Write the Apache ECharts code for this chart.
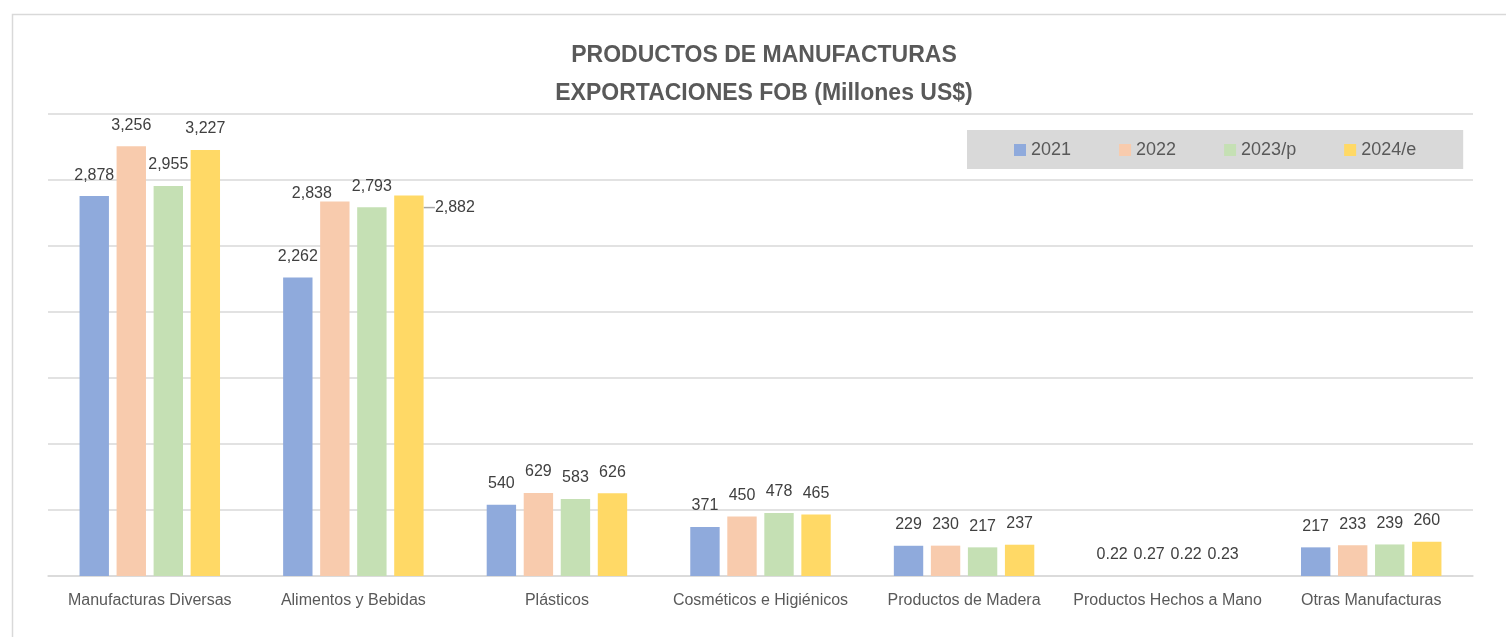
<!DOCTYPE html>
<html>
<head>
<meta charset="utf-8">
<script src="https://cdn.jsdelivr.net/npm/echarts@6/dist/echarts.min.js"></script>
<style>
  html, body { margin: 0; padding: 0; background: #fff; }
  #chart { width: 1506px; height: 637px; }
</style>
</head>
<body>
<div id="chart"></div>
<script>
// categorias y valores (millones US$)
var categories = ['Manufacturas Diversas', 'Alimentos y Bebidas', 'Plásticos', 'Cosméticos e Higiénicos',
  'Productos de Madera', 'Productos Hechos a Mano', 'Otras Manufacturas'];
var seriesNames = ['2021', '2022', '2023/p', '2024/e'];
var v2021 = [2878, 2262, 540, 371, 229, 0.22, 217];
var v2022 = [3256, 2838, 629, 450, 230, 0.27, 233];
var v2023 = [2955, 2793, 583, 478, 217, 0.22, 239];
var v2024 = [3227, 2882, 626, 465, 237, 0.23, 260];
var colors = ['#8faadc', '#f8cbad', '#c5e0b4', '#ffd966'];

var font = 'Liberation Sans, Arial, sans-serif';

function fmt(v) {
  if (v < 1) return v.toFixed(2);
  return Math.round(v).toLocaleString('en-US');
}

function makeSeries(name, values, idx) {
  return {
    name: name,
    type: 'bar',
    barGap: '26%',
    barCategoryGap: '31%',
    itemStyle: { color: colors[idx] },
    label: {
      show: true,
      position: 'top',
      distance: 13,
      color: '#404040',
      fontFamily: font,
      fontSize: 16,
      formatter: function (p) { return fmt(p.value); }
    },
    data: values.slice()
  };
}

var series = [
  makeSeries(seriesNames[0], v2021, 0),
  makeSeries(seriesNames[1], v2022, 1),
  makeSeries(seriesNames[2], v2023, 2),
  makeSeries(seriesNames[3], v2024, 3)
];

// etiquetas movidas a mano como en el original
series[1].data[1] = { value: v2022[1], label: { offset: [-23, 13] } };
series[3].data[1] = { value: v2024[1], labelLine: { show: true, lineStyle: { color: '#a6a6a6', width: 1.5 } } };
series[3].labelLayout = function (p) {
  if (p.dataIndex === 1) return { dx: 46, dy: 33 };
};

var chart = echarts.init(document.getElementById('chart'));
chart.setOption({
  animation: false,
  color: colors,
  graphic: [{
    type: 'rect',
    left: 10, top: 12,
    shape: { width: 1510, height: 700 },
    style: { fill: 'none', stroke: '#d9d9d9', lineWidth: 1.5 },
    silent: true
  }],
  title: {
    text: 'PRODUCTOS DE MANUFACTURAS\nEXPORTACIONES FOB (Millones US$)',
    left: 759,
    textAlign: 'center',
    top: 32,
    textStyle: {
      fontFamily: font,
      fontWeight: 'bold',
      fontSize: 23,
      lineHeight: 38,
      color: '#595959'
    }
  },
  legend: {
    left: 967,
    top: 130,
    padding: [11, 47, 10, 47],
    backgroundColor: '#d9d9d9',
    itemWidth: 12,
    itemHeight: 12,
    itemGap: 48,
    icon: 'rect',
    textStyle: { fontFamily: font, fontSize: 18, color: '#595959' },
    data: seriesNames
  },
  grid: { left: 48, right: 33, top: 114, bottom: 61, containLabel: false },
  xAxis: {
    type: 'category',
    data: categories,
    axisTick: { show: false },
    axisLine: { lineStyle: { color: '#d9d9d9', width: 1.5 } },
    axisLabel: { color: '#595959', fontFamily: font, fontSize: 16, margin: 17, interval: 0 }
  },
  yAxis: {
    type: 'value',
    min: 0,
    max: 3500,
    interval: 500,
    axisLabel: { show: false },
    axisLine: { show: false },
    axisTick: { show: false },
    splitLine: { lineStyle: { color: '#d9d9d9', width: 1.5 } }
  },
  series: series
});
</script>
</body>
</html>
